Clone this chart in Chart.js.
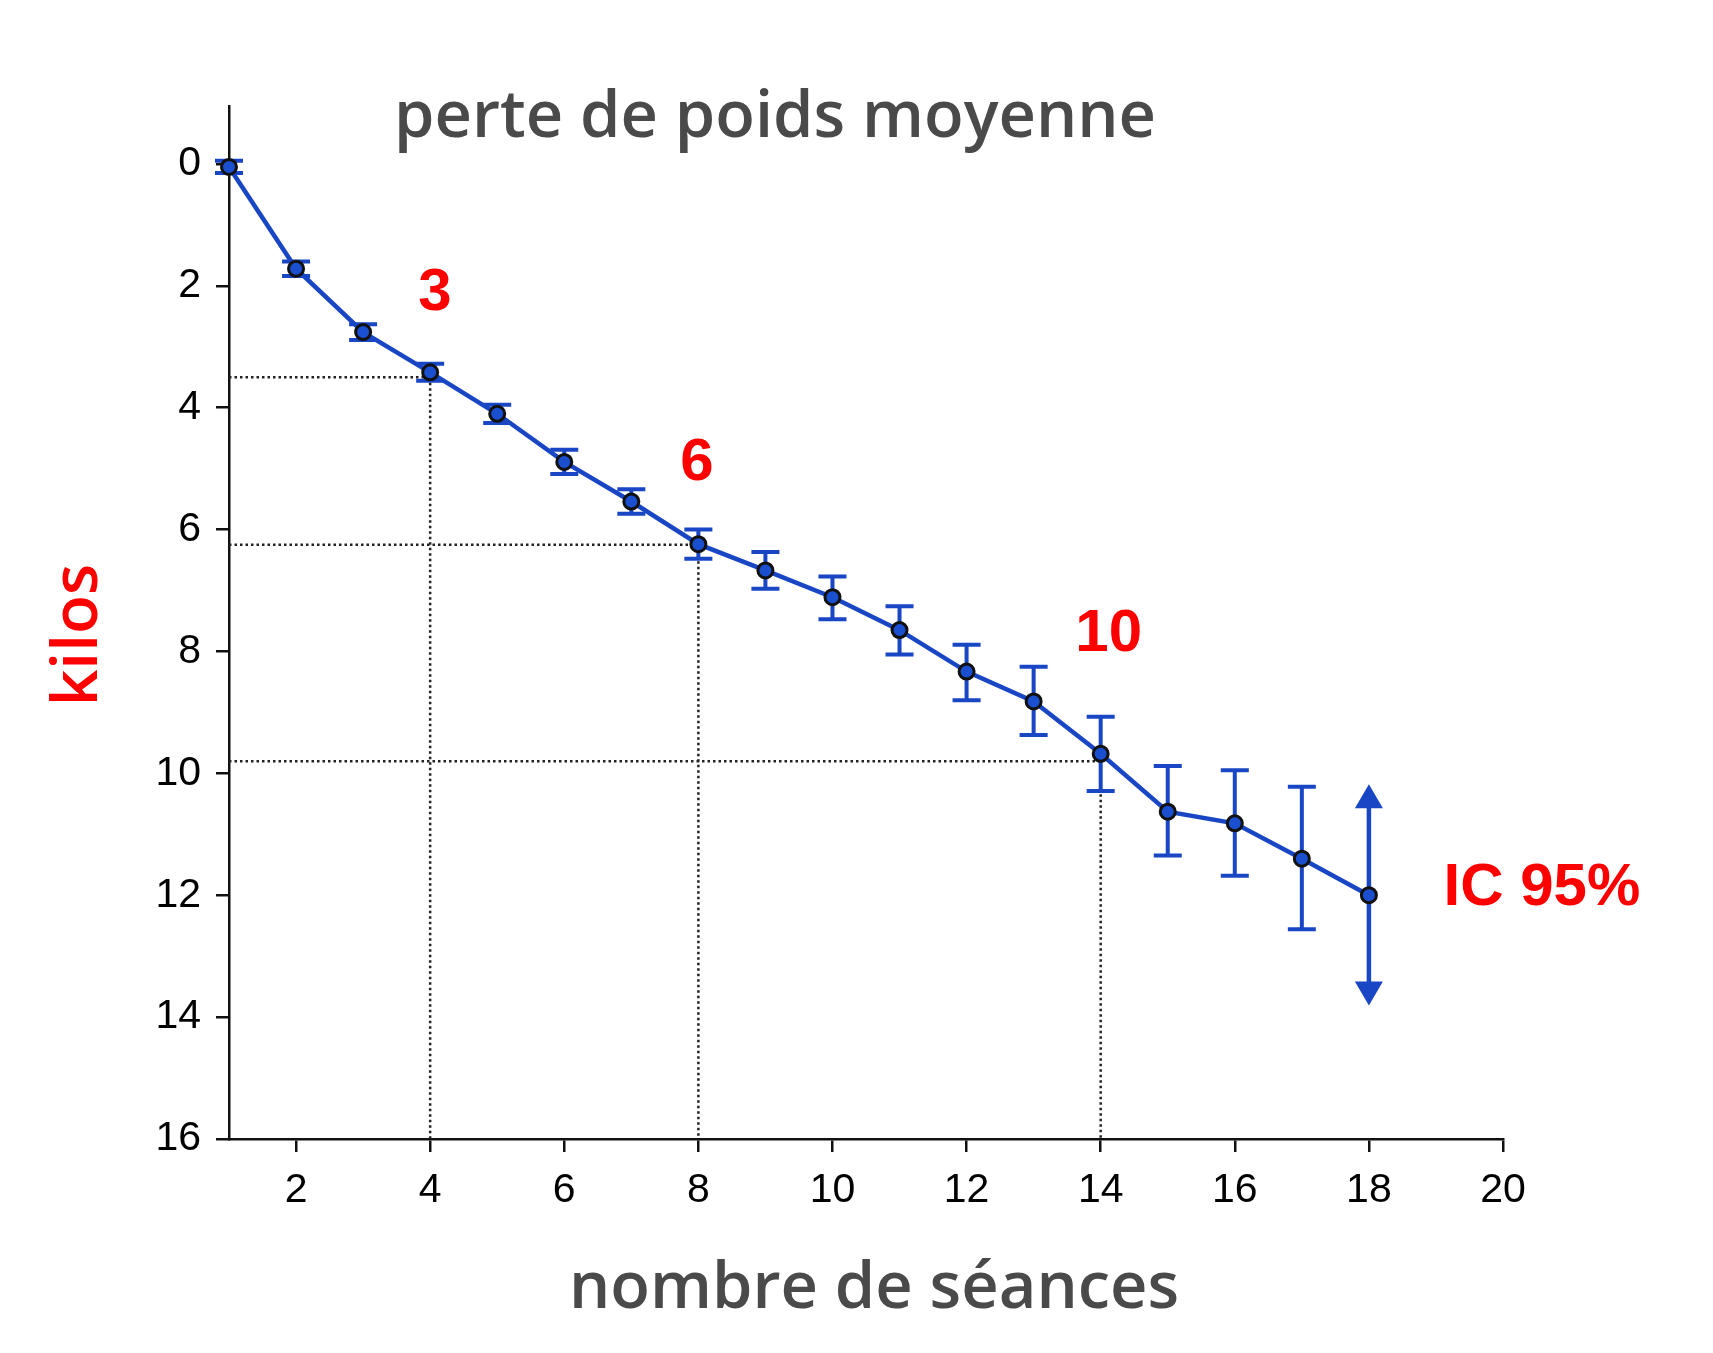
<!DOCTYPE html>
<html><head><meta charset="utf-8">
<script src="https://cdn.jsdelivr.net/npm/chart.js@4"></script>
<style>html,body{margin:0;padding:0;background:#fff}canvas{display:block}</style>
</head><body>
<canvas id="c" style="width:1713px;height:1353px"></canvas>
<script>
// ---- data ----
const sessions = [1,2,3,4,5,6,7,8,9,10,11,12,13,14,15,16,17,18];
const meanLoss = [0.05,1.72,2.76,3.42,4.10,4.89,5.54,6.24,6.67,7.11,7.65,8.33,8.82,9.68,10.63,10.82,11.40,12.0];
const ciLow    = [-0.05,1.60,2.63,3.28,3.95,4.69,5.34,6.00,6.37,6.77,7.26,7.89,8.25,9.07,9.88,9.95,10.22,10.18];
const ciHigh   = [0.15,1.84,2.89,3.56,4.25,5.09,5.74,6.48,6.97,7.47,8.05,8.80,9.37,10.29,11.35,11.68,12.56,13.81];
const arrowSession = 18;
const xTicks = [2,4,6,8,10,12,14,16,18,20];
const yTicks = [0,2,4,6,8,10,12,14,16];
const refSessions = [4,8,14];
const refLoss = [3.5,6.25,9.8];
const notes = [
  {text:'3', x:4.07, y:2.12},
  {text:'6', x:7.98, y:4.91},
  {text:'10', x:14.12, y:7.72},
  {text:'IC 95%', x:20.58, y:11.89}
];
const titleText = 'perte de poids moyenne';
const xTitle = 'nombre de séances';
const yTitle = 'kilos';

const BLUE = '#1846c4';

const overlay = {
  id:'overlay',
  beforeDatasetsDraw(chart){
    const ctx = chart.ctx, xs = chart.scales.x, ys = chart.scales.y;
    ctx.save();
    ctx.strokeStyle = '#222';
    ctx.lineWidth = 2.5;
    ctx.setLineDash([2.5,3]);
    for(let i=0;i<refSessions.length;i++){
      const px = xs.getPixelForValue(refSessions[i]);
      const py = ys.getPixelForValue(refLoss[i]);
      ctx.beginPath();
      ctx.moveTo(xs.getPixelForValue(xs.min), py);
      ctx.lineTo(px, py);
      ctx.moveTo(px, py);
      ctx.lineTo(px, ys.getPixelForValue(ys.max));
      ctx.stroke();
    }
    ctx.setLineDash([]);
    // error bars
    ctx.strokeStyle = BLUE;
    ctx.fillStyle = BLUE;
    ctx.lineWidth = 4;
    const cap = 14;
    for(let i=0;i<sessions.length;i++){
      const px = xs.getPixelForValue(sessions[i]);
      const y1 = ys.getPixelForValue(ciLow[i]);
      const y2 = ys.getPixelForValue(ciHigh[i]);
      if(sessions[i]===arrowSession){
        const ah = 24, aw = 14;
        ctx.lineWidth = 4.5;
        ctx.beginPath(); ctx.moveTo(px,y1+ah-2); ctx.lineTo(px,y2-ah+2); ctx.stroke();
        ctx.beginPath(); ctx.moveTo(px,y1); ctx.lineTo(px-aw,y1+ah); ctx.lineTo(px+aw,y1+ah); ctx.closePath(); ctx.fill();
        ctx.beginPath(); ctx.moveTo(px,y2); ctx.lineTo(px-aw,y2-ah); ctx.lineTo(px+aw,y2-ah); ctx.closePath(); ctx.fill();
        ctx.lineWidth = 4;
      } else {
        ctx.beginPath();
        ctx.moveTo(px,y1); ctx.lineTo(px,y2);
        ctx.moveTo(px-cap,y1); ctx.lineTo(px+cap,y1);
        ctx.moveTo(px-cap,y2); ctx.lineTo(px+cap,y2);
        ctx.stroke();
      }
    }
    ctx.restore();
  },
  afterDraw(chart){
    const ctx = chart.ctx, xs = chart.scales.x, ys = chart.scales.y;
    ctx.save();
    ctx.fillStyle = '#ff0000';
    ctx.font = 'bold 60px "Liberation Sans", Arial, sans-serif';
    ctx.textAlign = 'center';
    ctx.textBaseline = 'middle';
    for(const n of notes){
      ctx.fillText(n.text, xs.getPixelForValue(n.x), ys.getPixelForValue(n.y));
    }
    // titles
    ctx.fillStyle = '#4a4a4a';
    ctx.font = '600 65px "Open Sans", sans-serif';
    ctx.textBaseline = 'alphabetic';
    ctx.fillText(titleText, 775, 137);
    ctx.fillText(xTitle, 874, 1308);
    ctx.save();
    ctx.translate(97, 635);
    ctx.rotate(-Math.PI/2);
    ctx.fillStyle = '#ff0000';
    ctx.font = '600 64px "Open Sans", sans-serif';
    ctx.fillText(yTitle, 0, 0);
    ctx.restore();
    ctx.restore();
  }
};

new Chart(document.getElementById('c'), {
  type:'line',
  data:{
    datasets:[{
      data: sessions.map((s,i)=>({x:s, y:meanLoss[i]})),
      borderColor: BLUE,
      borderWidth: 4.5,
      backgroundColor: '#1a4fd0',
      pointBackgroundColor: '#1a4fd0',
      pointBorderColor: '#111',
      pointBorderWidth: 3,
      pointRadius: 7.5,
      tension: 0,
      clip: false
    }]
  },
  plugins:[overlay],
  options:{
    responsive:false,
    devicePixelRatio:1,
    animation:false,
    events:[],
    layout:{padding:{left:109, right:210, top:106, bottom:124}},
    plugins:{legend:{display:false}, tooltip:{enabled:false}, title:{display:false}},
    scales:{
      x:{
        type:'linear', min:1, max:20,
        afterBuildTicks(s){ s.ticks = xTicks.map(v=>({value:v})); },
        afterFit(s){ s.height = 90; },
        grid:{display:true, drawOnChartArea:false, drawTicks:true, tickLength:13, color:'#111', lineWidth:2.5},
        border:{display:true, color:'#111', width:2.5},
        ticks:{color:'#000', font:{family:'"Liberation Sans", Arial, sans-serif', size:41}, padding:14, maxRotation:0, autoSkip:false}
      },
      y:{
        type:'linear', reverse:true, min:-0.95, max:16,
        afterBuildTicks(s){ s.ticks = yTicks.map(v=>({value:v})); },
        afterFit(s){ s.width = 120; },
        grid:{display:true, drawOnChartArea:false, drawTicks:true, tickLength:13, color:'#111', lineWidth:2.5},
        border:{display:true, color:'#111', width:2.5},
        ticks:{color:'#000', font:{family:'"Liberation Sans", Arial, sans-serif', size:41}, padding:15, autoSkip:false}
      }
    }
  }
});
</script>
</body></html>
